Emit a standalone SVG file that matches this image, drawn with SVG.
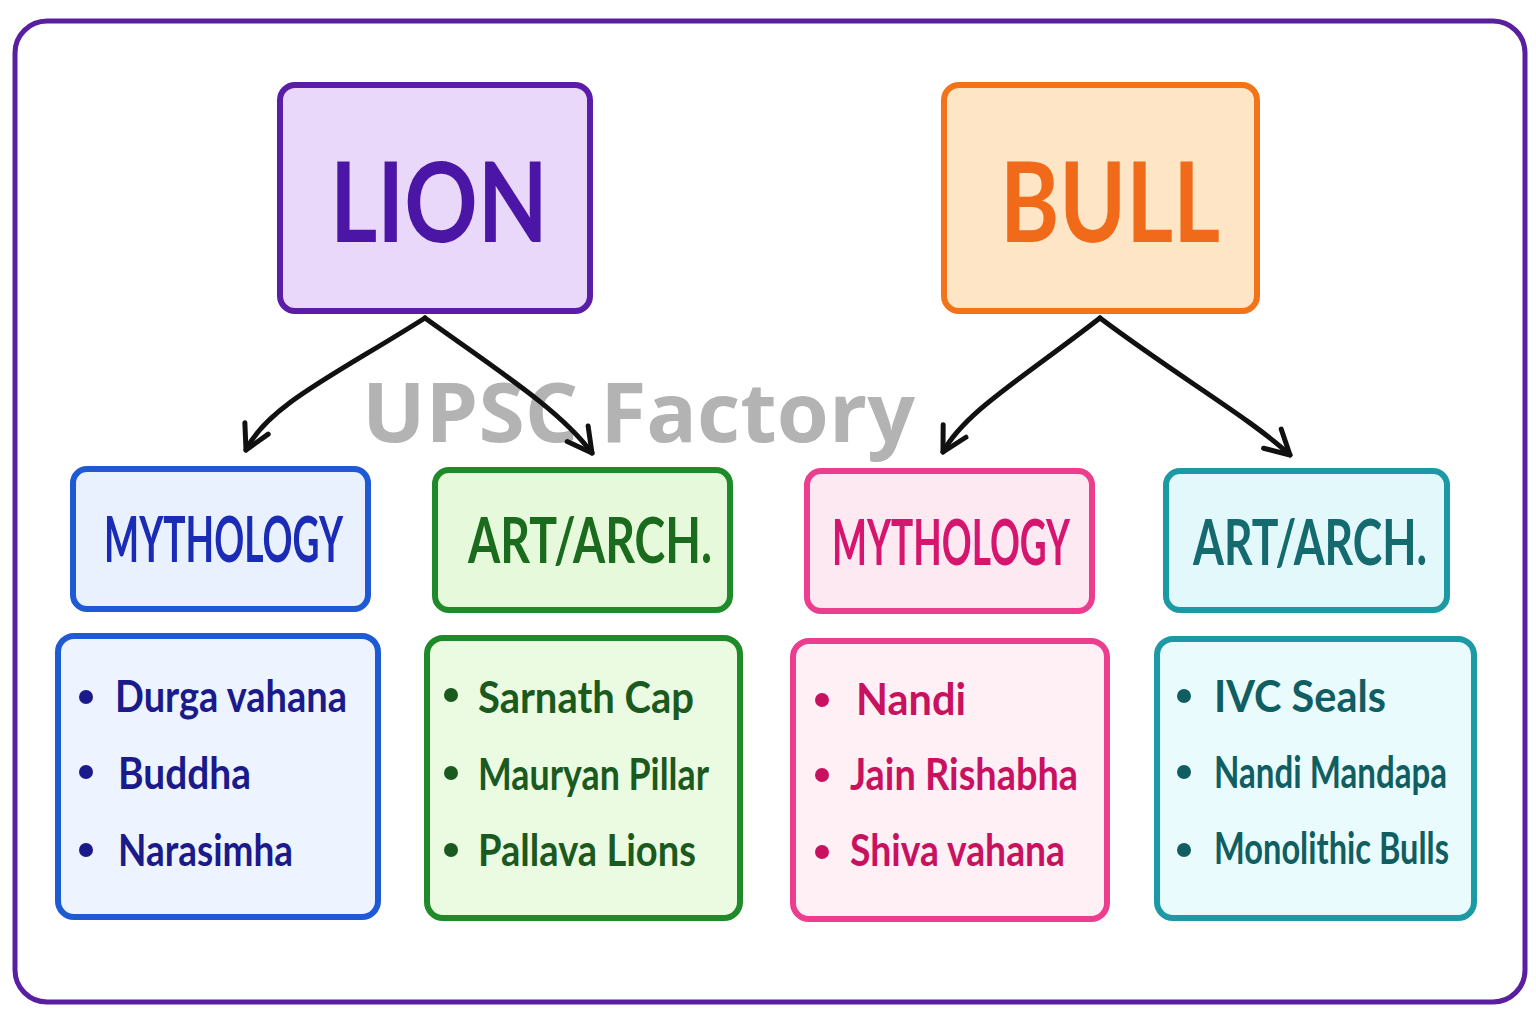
<svg xmlns="http://www.w3.org/2000/svg" width="1536" height="1024" viewBox="0 0 1536 1024">
<defs>
<style>
.box{stroke-width:6;stroke-linejoin:round}
.big{font-family:Lato,"Liberation Sans",sans-serif;font-size:112px;text-anchor:middle;font-weight:bold}
.hd{font-family:Lato,"Liberation Sans",sans-serif;font-size:52px;text-anchor:start;font-weight:bold}
.it{font-family:Lato,"Liberation Sans",sans-serif;font-size:43px;font-weight:bold}
.conn{fill:none;stroke:#111;stroke-width:5;stroke-linecap:round}
.wm{font-family:"Open Sans","Liberation Sans",sans-serif;font-weight:bold;font-size:82px;fill:#b3b3b3}
</style>
<marker id="ah" markerUnits="userSpaceOnUse" markerWidth="40" markerHeight="40" viewBox="-30 -20 40 40" refX="0" refY="0" orient="auto">
<path d="M-24,-13 L0,0 L-24,13" fill="none" stroke="#111" stroke-width="5" stroke-linecap="round" stroke-linejoin="round"/>
</marker>
</defs>
<rect x="0" y="0" width="1536" height="1024" fill="#ffffff"/>
<rect x="15" y="21" width="1510" height="981" rx="32" fill="#ffffff" stroke="#5a1fa0" stroke-width="5"/>

<text class="wm" x="362" y="442" textLength="553" lengthAdjust="spacingAndGlyphs">UPSC Factory</text>

<g id="connectors">
<path class="conn" d="M425,318 C340,372 268,405 246,450" marker-end="url(#ah)"/>
<path class="conn" d="M425,318 C500,372 560,410 592,453" marker-end="url(#ah)"/>
<path class="conn" d="M1100,318 C1020,380 965,412 943,452" marker-end="url(#ah)"/>
<path class="conn" d="M1100,318 C1180,378 1250,418 1290,455" marker-end="url(#ah)"/>
</g>

<g id="lion">
<rect class="box" x="280" y="85" width="310" height="226" rx="15" fill="#ead8fb" stroke="#5b1ca8"/>
<text class="big" x="439" y="242" fill="#4b16a6" textLength="218" lengthAdjust="spacingAndGlyphs">LION</text>
</g>
<g id="bull">
<rect class="box" x="944" y="85" width="313" height="226" rx="15" fill="#fde5c6" stroke="#f27318"/>
<text class="big" x="1110" y="242" fill="#f06a1a" textLength="220" lengthAdjust="spacingAndGlyphs">BULL</text>
</g>

<g id="lion-mythology">
<rect class="box" x="73" y="469" width="295" height="140" rx="14" fill="#e9f1fe" stroke="#1e5ad4"/>
<text class="hd" transform="translate(104,562) scale(1,1.22)" x="0" y="0" fill="#1a2cb5" textLength="239" lengthAdjust="spacingAndGlyphs">MYTHOLOGY</text>
</g>
<g id="lion-mythology-items">
<rect class="box" x="58" y="636" width="320" height="281" rx="16" fill="#eef4ff" stroke="#1e5ad4"/>
<circle cx="86" cy="697" r="7" fill="#1a1a8a"/>
<circle cx="86" cy="772" r="7" fill="#1a1a8a"/>
<circle cx="86" cy="850" r="7" fill="#1a1a8a"/>
<text class="it" x="115" y="712" fill="#1a1a8a" textLength="232" lengthAdjust="spacingAndGlyphs">Durga vahana</text>
<text class="it" x="118" y="789" fill="#1a1a8a" textLength="133" lengthAdjust="spacingAndGlyphs">Buddha</text>
<text class="it" x="118" y="866" fill="#1a1a8a" textLength="175" lengthAdjust="spacingAndGlyphs">Narasimha</text>
</g>

<g id="lion-art">
<rect class="box" x="435" y="470" width="295" height="140" rx="14" fill="#e6fadb" stroke="#1f8a2a"/>
<text class="hd" transform="translate(468,563) scale(1,1.22)" x="0" y="0" fill="#1b6b1f" textLength="244" lengthAdjust="spacingAndGlyphs">ART/ARCH.</text>
</g>
<g id="lion-art-items">
<rect class="box" x="427" y="638" width="313" height="280" rx="16" fill="#ebfbe2" stroke="#1f8a2a"/>
<circle cx="451" cy="695" r="7" fill="#1b5a1f"/>
<circle cx="451" cy="773" r="7" fill="#1b5a1f"/>
<circle cx="451" cy="850" r="7" fill="#1b5a1f"/>
<text class="it" x="478" y="713" fill="#1b5a1f" textLength="216" lengthAdjust="spacingAndGlyphs">Sarnath Cap</text>
<text class="it" x="478" y="790" fill="#1b5a1f" textLength="231" lengthAdjust="spacingAndGlyphs">Mauryan Pillar</text>
<text class="it" x="478" y="866" fill="#1b5a1f" textLength="218" lengthAdjust="spacingAndGlyphs">Pallava Lions</text>
</g>

<g id="bull-mythology">
<rect class="box" x="807" y="471" width="285" height="140" rx="14" fill="#fde9f2" stroke="#ec3d8f"/>
<text class="hd" transform="translate(832,565) scale(1,1.22)" x="0" y="0" fill="#d6166e" textLength="238" lengthAdjust="spacingAndGlyphs">MYTHOLOGY</text>
</g>
<g id="bull-mythology-items">
<rect class="box" x="793" y="641" width="314" height="278" rx="16" fill="#fff0f6" stroke="#ec3d8f"/>
<circle cx="822" cy="700" r="7" fill="#c8125f"/>
<circle cx="822" cy="775" r="7" fill="#c8125f"/>
<circle cx="822" cy="852" r="7" fill="#c8125f"/>
<text class="it" x="856" y="715" fill="#c8125f" textLength="110" lengthAdjust="spacingAndGlyphs">Nandi</text>
<text class="it" x="850" y="790" fill="#c8125f" textLength="228" lengthAdjust="spacingAndGlyphs">Jain Rishabha</text>
<text class="it" x="850" y="866" fill="#c8125f" textLength="215" lengthAdjust="spacingAndGlyphs">Shiva vahana</text>
</g>

<g id="bull-art">
<rect class="box" x="1166" y="471" width="281" height="139" rx="14" fill="#e3f8fa" stroke="#1b9aa5"/>
<text class="hd" transform="translate(1193,565) scale(1,1.22)" x="0" y="0" fill="#146a6e" textLength="234" lengthAdjust="spacingAndGlyphs">ART/ARCH.</text>
</g>
<g id="bull-art-items">
<rect class="box" x="1157" y="639" width="317" height="279" rx="16" fill="#e9fbfc" stroke="#1b9aa5"/>
<circle cx="1184" cy="696" r="7" fill="#115e62"/>
<circle cx="1184" cy="772" r="7" fill="#115e62"/>
<circle cx="1184" cy="850" r="7" fill="#115e62"/>
<text class="it" x="1214" y="712" fill="#115e62" textLength="172" lengthAdjust="spacingAndGlyphs">IVC Seals</text>
<text class="it" x="1214" y="788" fill="#115e62" textLength="233" lengthAdjust="spacingAndGlyphs">Nandi Mandapa</text>
<text class="it" x="1214" y="864" fill="#115e62" textLength="235" lengthAdjust="spacingAndGlyphs">Monolithic Bulls</text>
</g>
</svg>
